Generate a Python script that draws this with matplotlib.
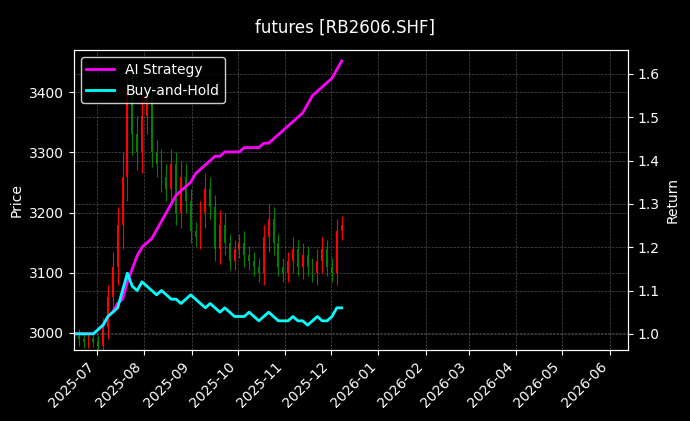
import matplotlib
matplotlib.use("Agg")
import matplotlib.pyplot as plt
import matplotlib.dates as mdates
import pandas as pd

dates = pd.date_range("2025-06-16", "2025-12-08", periods=56)
close = [2995, 2990, 2985,
         2990, 2985, 2978, 3010, 3060, 3110, 3180, 3260, 3400, 3330,
         3300, 3360, 3390, 3300, 3280, 3260, 3240, 3280, 3200, 3260,
         3220, 3170, 3160, 3200, 3240, 3210, 3140, 3180, 3150, 3120,
         3140, 3150, 3130, 3120, 3110, 3100, 3160, 3190, 3150, 3110,
         3100, 3120, 3140, 3110, 3130, 3110, 3100, 3120, 3140, 3110,
         3100, 3170, 3180]
wick = [10, 12, 10,
        10, 8, 12, 15, 20, 25, 30, 40, 40, 35, 30, 35, 30, 25, 20, 25, 20,
        25, 20, 25, 20, 20, 15, 20, 25, 20, 20, 25, 20, 15, 15, 15, 20, 15,
        15, 15, 20, 25, 20, 15, 15, 15, 20, 15, 20, 15, 15, 20, 20, 15, 15,
        20, 15]
ai_ret = [1.00, 1.00, 1.00,
          1.00, 1.00, 1.01, 1.02, 1.04, 1.05, 1.07, 1.08, 1.12, 1.15,
          1.18, 1.20, 1.21, 1.22, 1.24, 1.26, 1.28, 1.30, 1.32, 1.33,
          1.34, 1.35, 1.37, 1.38, 1.39, 1.40, 1.41, 1.41, 1.42, 1.42,
          1.42, 1.42, 1.43, 1.43, 1.43, 1.43, 1.44, 1.44, 1.45, 1.46,
          1.47, 1.48, 1.49, 1.50, 1.51, 1.53, 1.55, 1.56, 1.57, 1.58,
          1.59, 1.61, 1.63]
bh_ret = [1.00, 1.00, 1.00,
          1.00, 1.00, 1.01, 1.02, 1.04, 1.05, 1.06, 1.10, 1.14, 1.11,
          1.10, 1.12, 1.11, 1.10, 1.09, 1.10, 1.09, 1.08, 1.08, 1.07,
          1.08, 1.09, 1.08, 1.07, 1.06, 1.07, 1.06, 1.05, 1.06, 1.05,
          1.04, 1.04, 1.04, 1.05, 1.04, 1.03, 1.04, 1.05, 1.04, 1.03,
          1.03, 1.03, 1.04, 1.03, 1.03, 1.02, 1.03, 1.04, 1.03, 1.03,
          1.04, 1.06, 1.06]

fig = plt.figure(figsize=(6.9, 4.21), dpi=100)
fig.patch.set_facecolor("black")
ax = fig.add_axes([0.107, 0.169, 0.803, 0.712])
ax.set_facecolor("black")

opens = [close[0]] + close[:-1]
for d, o, c, w in zip(dates, opens, close, wick):
    col = "red" if c >= o else "green"
    x = mdates.date2num(d)
    ax.vlines(x, min(o, c) - w, max(o, c) + w, color=col, lw=0.8)
    ax.bar(x, abs(c - o) or 2, bottom=min(o, c), width=1.2, color=col)

ax.set_xlim(mdates.date2num(pd.Timestamp("2025-06-16")),
            mdates.date2num(pd.Timestamp("2026-06-13")))
ax.set_ylim(2972, 3470)
ax.set_ylabel("Price", color="white")
ax.xaxis.set_major_locator(mdates.MonthLocator())
ax.xaxis.set_major_formatter(mdates.DateFormatter("%Y-%m"))
plt.setp(ax.get_xticklabels(), rotation=45, ha="right")
ax.grid(True, color="gray", ls="--", lw=0.5, alpha=0.6)

ax2 = ax.twinx()
ax2.plot(dates, ai_ret, color="magenta", lw=2, label="AI Strategy")
ax2.plot(dates, bh_ret, color="cyan", lw=2, label="Buy-and-Hold")
ax2.set_ylim(0.963, 1.655)
ax2.set_ylabel("Return", color="white")
ax2.grid(True, color="gray", ls="--", lw=0.5, alpha=0.6)

for a in (ax, ax2):
    a.tick_params(colors="white")
    for s in a.spines.values():
        s.set_color("white")

leg = ax2.legend(loc="upper left", facecolor="black", edgecolor="white",
                 labelcolor="white")
fig.suptitle("futures [RB2606.SHF]", color="white", y=0.955)
fig.savefig("out.png", dpi=100, facecolor="black")
